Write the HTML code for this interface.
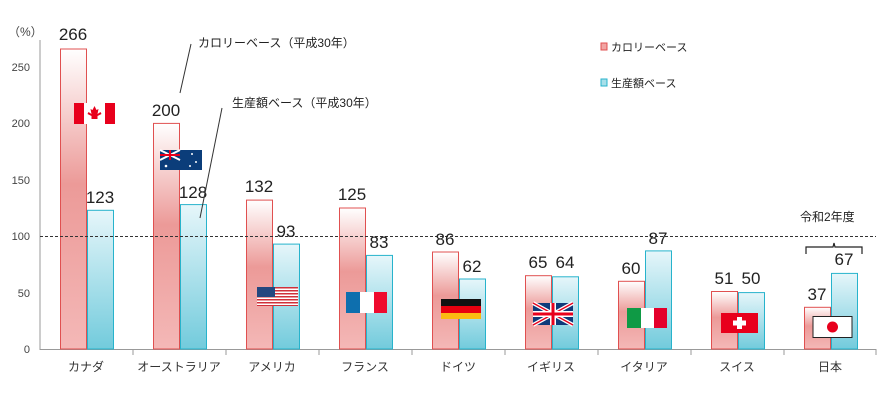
<!DOCTYPE html>
<html><head><meta charset="utf-8"><style>
body{margin:0;background:#fff;}
svg{display:block;font-family:"Liberation Sans","Noto Sans CJK JP",sans-serif;}
.v{font-size:17px;fill:#222;text-anchor:middle;}
.c{font-size:12px;fill:#333;text-anchor:middle;}
.t{font-size:11px;fill:#444;text-anchor:end;}
</style></head><body>
<svg width="890" height="400" viewBox="0 0 890 400">
<defs>
<linearGradient id="r" x1="0" y1="0" x2="0" y2="1"><stop offset="0" stop-color="#fff"/><stop offset="0.45" stop-color="#ec9a98"/><stop offset="1" stop-color="#f4b8b7"/></linearGradient>
<linearGradient id="b" x1="0" y1="0" x2="0" y2="1"><stop offset="0" stop-color="#e6f6fa"/><stop offset="1" stop-color="#72cbdc"/></linearGradient>
</defs>
<text x="8" y="36" font-size="12" fill="#444">（%）</text>
<g class="t">
<text x="30" y="353">0</text><text x="30" y="297">50</text><text x="30" y="240">100</text><text x="30" y="184">150</text><text x="30" y="127">200</text><text x="30" y="71">250</text>
</g>
<line x1="40" y1="40" x2="40" y2="350" stroke="#999"/>
<line x1="40" y1="349.5" x2="876" y2="349.5" stroke="#999"/>
<g stroke="#999"><line x1="133" y1="349" x2="133" y2="355"/><line x1="226" y1="349" x2="226" y2="355"/><line x1="319" y1="349" x2="319" y2="355"/><line x1="412" y1="349" x2="412" y2="355"/><line x1="505" y1="349" x2="505" y2="355"/><line x1="598" y1="349" x2="598" y2="355"/><line x1="691" y1="349" x2="691" y2="355"/><line x1="784" y1="349" x2="784" y2="355"/><line x1="876" y1="349" x2="876" y2="355"/></g>
<g stroke="#e05050" stroke-width="1" fill="url(#r)">
<rect x="60.5" y="49" width="26" height="300"/>
<rect x="153.5" y="123.4" width="26" height="225.6"/>
<rect x="246.5" y="200.1" width="26" height="148.9"/>
<rect x="339.5" y="208" width="26" height="141"/>
<rect x="432.5" y="252" width="26" height="97"/>
<rect x="525.5" y="275.7" width="26" height="73.3"/>
<rect x="618.5" y="281.3" width="26" height="67.7"/>
<rect x="711.5" y="291.5" width="26" height="57.5"/>
<rect x="804.5" y="307.3" width="26" height="41.7"/>
</g>
<g stroke="#27b3cc" stroke-width="1" fill="url(#b)">
<rect x="87.5" y="210.3" width="26" height="138.7"/>
<rect x="180.5" y="204.6" width="26" height="144.4"/>
<rect x="273.5" y="244.1" width="26" height="104.9"/>
<rect x="366.5" y="255.4" width="26" height="93.6"/>
<rect x="459.5" y="279" width="26" height="70"/>
<rect x="552.5" y="276.8" width="26" height="72.2"/>
<rect x="645.5" y="250.9" width="26" height="98.1"/>
<rect x="738.5" y="292.6" width="26" height="56.4"/>
<rect x="831.5" y="273.4" width="26" height="75.6"/>
</g>
<line x1="40" y1="236.5" x2="876" y2="236.5" stroke="#333" stroke-dasharray="3,2"/>
<!-- flags -->
<g>
<rect x="74" y="103" width="41" height="21" fill="#fff"/><rect x="74" y="103" width="10" height="21" fill="#e8001c"/><rect x="105" y="103" width="10" height="21" fill="#e8001c"/><path d="M94.5 106 l2 4 2-1-1 5 3-2 1 2 -4 2 v3 h-6 v-3 l-4-2 1-2 3 2-1-5 2 1z" fill="#e8001c"/>
<rect x="160" y="150" width="42" height="20" fill="#0b3d7a"/><path d="M160 150 l20 10 M180 150 l-20 10" stroke="#fff" stroke-width="2"/><path d="M170 150 v10 M160 155 h20" stroke="#e8001c" stroke-width="2"/><circle cx="166" cy="166" r="1.3" fill="#fff"/><circle cx="192" cy="154" r="1" fill="#fff"/><circle cx="196" cy="162" r="1" fill="#fff"/><circle cx="190" cy="166" r="1" fill="#fff"/>
<rect x="257" y="287" width="41" height="19" fill="#fff"/><g fill="#d0303a"><rect x="257" y="287" width="41" height="1.5"/><rect x="257" y="290" width="41" height="1.5"/><rect x="257" y="293" width="41" height="1.5"/><rect x="257" y="296" width="41" height="1.5"/><rect x="257" y="299" width="41" height="1.5"/><rect x="257" y="302" width="41" height="1.5"/><rect x="257" y="305" width="41" height="1"/></g><rect x="257" y="287" width="18" height="10" fill="#24477f"/>
<rect x="346" y="292" width="14" height="21" fill="#0e6fae"/><rect x="360" y="292" width="14" height="21" fill="#fff"/><rect x="374" y="292" width="13" height="21" fill="#ef0b2e"/>
<rect x="441" y="299" width="40" height="7" fill="#111"/><rect x="441" y="306" width="40" height="7" fill="#e8000f"/><rect x="441" y="313" width="40" height="6" fill="#fbbb12"/>
<rect x="533" y="303" width="40" height="22" fill="#0f3a7a"/><path d="M533 303 L573 325 M573 303 L533 325" stroke="#fff" stroke-width="4"/><path d="M533 303 L573 325 M573 303 L533 325" stroke="#e8001c" stroke-width="1.3"/><path d="M553 303 v22 M533 314 h40" stroke="#fff" stroke-width="6"/><path d="M553 303 v22 M533 314 h40" stroke="#e8001c" stroke-width="3"/>
<rect x="627" y="308" width="14" height="20" fill="#0f9a45"/><rect x="641" y="308" width="13" height="20" fill="#fff"/><rect x="654" y="308" width="13" height="20" fill="#e4002b"/>
<rect x="721" y="313" width="37" height="20" fill="#e8001c"/><rect x="737" y="317" width="5" height="12" fill="#fff"/><rect x="733" y="320.5" width="13" height="5" fill="#fff"/>
<rect x="813" y="316.5" width="39" height="21" fill="#fff" stroke="#222"/><circle cx="832.5" cy="327" r="5.5" fill="#e8001c"/>
</g>
<g class="v">
<text x="73" y="40">266</text><text x="100" y="203">123</text>
<text x="166" y="116">200</text><text x="193" y="198">128</text>
<text x="259" y="192">132</text><text x="286" y="237">93</text>
<text x="352" y="200">125</text><text x="379" y="248">83</text>
<text x="445" y="245">86</text><text x="472" y="272">62</text>
<text x="538" y="268">65</text><text x="565" y="268">64</text>
<text x="631" y="274">60</text><text x="658" y="244">87</text>
<text x="724" y="284">51</text><text x="751" y="284">50</text>
<text x="817" y="300">37</text><text x="844" y="265">67</text>
</g>
<line x1="180" y1="93" x2="191" y2="44" stroke="#333"/>
<line x1="200" y1="218" x2="222" y2="108" stroke="#333"/>
<text x="198" y="47" font-size="12" fill="#222">カロリーベース（平成30年）</text>
<text x="232" y="107" font-size="12" fill="#222">生産額ベース（平成30年）</text>
<text x="800" y="221" font-size="12" fill="#222">令和2年度</text>
<path d="M806 254 v-7 h27 l1-4 1 4 h27 v7" fill="none" stroke="#222" stroke-width="1.2"/>
<rect x="601" y="43" width="6" height="7" fill="#f1a5a3" stroke="#e05050"/>
<text x="611" y="51" font-size="11" fill="#222">カロリーベース</text>
<rect x="601" y="79" width="6" height="7" fill="#a8dfe9" stroke="#27b3cc"/>
<text x="611" y="87" font-size="11" fill="#222">生産額ベース</text>
<g class="c">
<text x="86" y="371">カナダ</text><text x="179" y="371">オーストラリア</text><text x="272" y="371">アメリカ</text><text x="365" y="371">フランス</text><text x="458" y="371">ドイツ</text><text x="551" y="371">イギリス</text><text x="644" y="371">イタリア</text><text x="737" y="371">スイス</text><text x="830" y="371">日本</text>
</g>
</svg>
</body></html>
